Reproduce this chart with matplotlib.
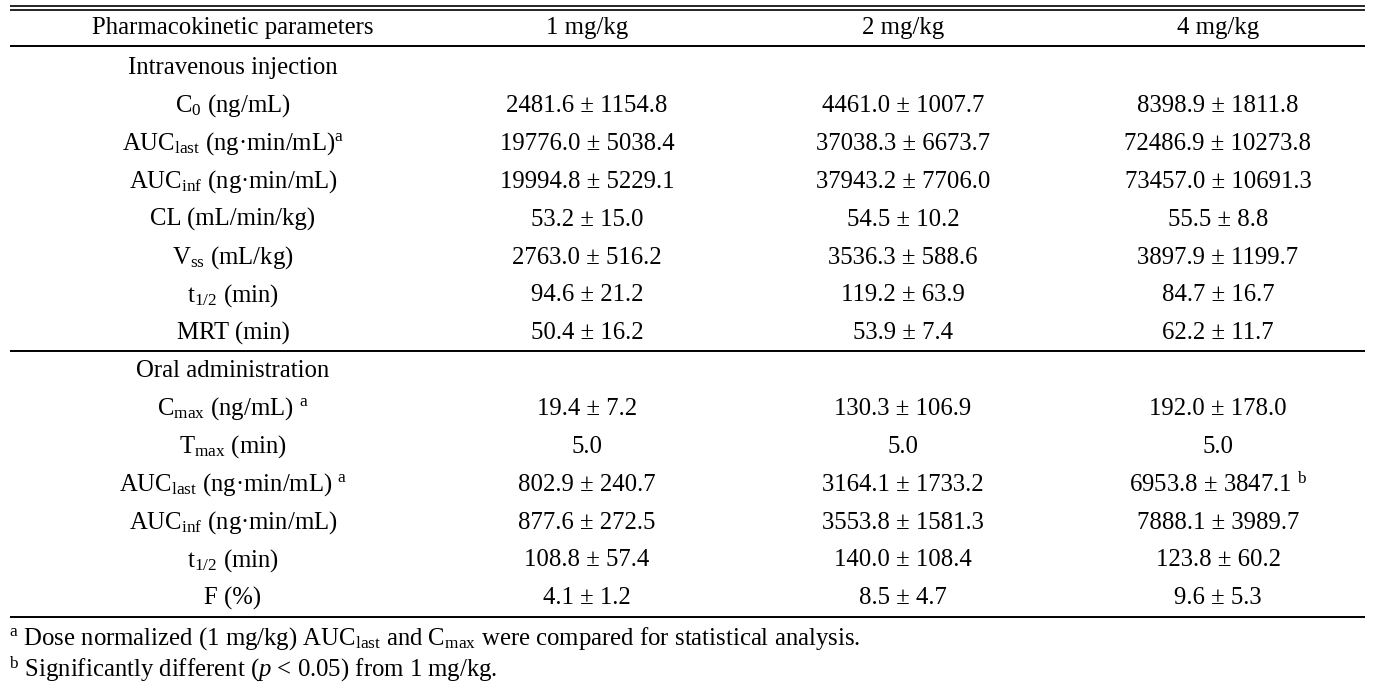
import matplotlib
matplotlib.use("Agg")
import matplotlib.pyplot as plt

plt.rcParams["font.family"] = "Liberation Serif"
plt.rcParams["mathtext.fontset"] = "custom"
plt.rcParams["mathtext.rm"] = "Liberation Serif"
plt.rcParams["mathtext.it"] = "Liberation Serif:italic"

# table content
header = ["Pharmacokinetic parameters", "1 mg/kg", "2 mg/kg", "4 mg/kg"]

iv_title = "Intravenous injection"
iv_params = [
    r"C$_{0}$ (ng/mL)",
    r"AUC$_{\mathrm{last}}$ (ng·min/mL)$^{\mathrm{a}}$",
    r"AUC$_{\mathrm{inf}}$ (ng·min/mL)",
    "CL (mL/min/kg)",
    r"V$_{\mathrm{ss}}$ (mL/kg)",
    r"t$_{1/2}$ (min)",
    "MRT (min)",
]
iv_1mg = ["2481.6 ± 1154.8", "19776.0 ± 5038.4", "19994.8 ± 5229.1", "53.2 ± 15.0",
          "2763.0 ± 516.2", "94.6 ± 21.2", "50.4 ± 16.2"]
iv_2mg = ["4461.0 ± 1007.7", "37038.3 ± 6673.7", "37943.2 ± 7706.0", "54.5 ± 10.2",
          "3536.3 ± 588.6", "119.2 ± 63.9", "53.9 ± 7.4"]
iv_4mg = ["8398.9 ± 1811.8", "72486.9 ± 10273.8", "73457.0 ± 10691.3", "55.5 ± 8.8",
          "3897.9 ± 1199.7", "84.7 ± 16.7", "62.2 ± 11.7"]

po_title = "Oral administration"
po_params = [
    r"C$_{\mathrm{max}}$ (ng/mL) $^{\mathrm{a}}$",
    r"T$_{\mathrm{max}}$ (min)",
    r"AUC$_{\mathrm{last}}$ (ng·min/mL) $^{\mathrm{a}}$",
    r"AUC$_{\mathrm{inf}}$ (ng·min/mL)",
    r"t$_{1/2}$ (min)",
    "F (%)",
]
po_1mg = ["19.4 ± 7.2", "5.0", "802.9 ± 240.7", "877.6 ± 272.5", "108.8 ± 57.4", "4.1 ± 1.2"]
po_2mg = ["130.3 ± 106.9", "5.0", "3164.1 ± 1733.2", "3553.8 ± 1581.3", "140.0 ± 108.4", "8.5 ± 4.7"]
po_4mg = ["192.0 ± 178.0", "5.0", r"6953.8 ± 3847.1 $^{\mathrm{b}}$", "7888.1 ± 3989.7",
          "123.8 ± 60.2", "9.6 ± 5.3"]

footnotes = [
    r"$^{\mathrm{a}}$ Dose normalized (1 mg/kg) AUC$_{\mathrm{last}}$ and C$_{\mathrm{max}}$ were compared for statistical analysis.",
    r"$^{\mathrm{b}}$ Significantly different ($\mathit{p}$ < 0.05) from 1 mg/kg.",
]

W, H = 1376, 686
fig = plt.figure(figsize=(W / 100, H / 100), dpi=100)
ax = fig.add_axes([0, 0, 1, 1])
ax.set_xlim(0, W)
ax.set_ylim(H, 0)
ax.axis("off")

FS = 17.8
col_x = [233, 587, 903, 1218]
row_h = 37.9

def hline(y, lw=1.4):
    ax.plot([10, 1365], [y, y], color="black", lw=lw, solid_capstyle="butt")

hline(6, 1.2)
hline(10, 1.2)
hline(46)
hline(351)
hline(617)

y = 28
for x, t in zip(col_x, header):
    ax.text(x, y, t, fontsize=FS, ha="center", va="center")

def section(y0, title, params, c1, c2, c3):
    ax.text(col_x[0], y0, title, fontsize=FS, ha="center", va="center")
    for i, p in enumerate(params):
        yy = y0 + (i + 1) * row_h
        ax.text(col_x[0], yy, p, fontsize=FS, ha="center", va="center")
        for x, vals in zip(col_x[1:], (c1, c2, c3)):
            ax.text(x, yy, vals[i], fontsize=FS, ha="center", va="center")

section(68, iv_title, iv_params, iv_1mg, iv_2mg, iv_4mg)
section(371, po_title, po_params, po_1mg, po_2mg, po_4mg)

for i, t in enumerate(footnotes):
    ax.text(9, 639 + i * 30, t, fontsize=FS, ha="left", va="center")

fig.savefig("out.png", dpi=100)
